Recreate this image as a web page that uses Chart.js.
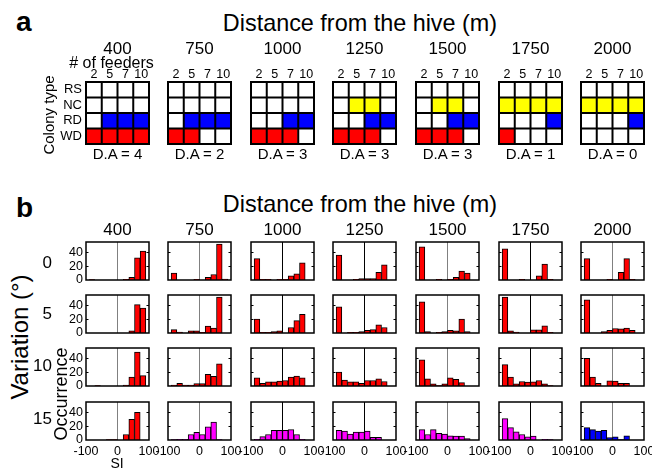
<!DOCTYPE html>
<html><head><meta charset="utf-8">
<script src="https://cdn.jsdelivr.net/npm/chart.js@4.4.0/dist/chart.umd.min.js"></script>
<style>
html,body{margin:0;padding:0;background:#fff;}
body{width:652px;height:468px;position:relative;overflow:hidden;font-family:"Liberation Sans",Arial,sans-serif;color:#000;}
canvas{position:absolute;}
.t{position:absolute;line-height:1;white-space:nowrap;transform:translate(-50%,-50%);}
.rt{position:absolute;line-height:1;white-space:nowrap;transform:translate(-100%,-50%);}
.r{position:absolute;line-height:1;white-space:nowrap;transform:translate(-50%,-50%) rotate(-90deg);}
.lt{position:absolute;line-height:1;white-space:nowrap;font-weight:bold;}
</style></head><body>
<script>
// ---------- data ----------
const distances = ['400','750','1000','1250','1500','1750','2000'];
const feederLabels = ['2','5','7','10'];
const colonyTypes = ['RS','NC','RD','WD'];          // top to bottom
const rsCells = [[0,0,0,0],[0,0,0,0],[0,0,0,0],[0,0,0,0],[0,0,0,0],[0,0,0,0],[0,0,0,0]];
const ncCells = [[0,0,0,0],[0,0,0,0],[0,0,0,0],[0,1,1,0],[0,1,1,0],[1,1,1,1],[1,1,1,1]];
const rdCells = [[0,1,1,1],[0,1,1,1],[0,0,1,1],[0,0,1,1],[0,0,1,1],[0,0,0,1],[0,0,0,1]];
const wdCells = [[1,1,1,1],[1,1,0,0],[1,1,1,0],[1,1,1,0],[1,1,1,0],[1,0,0,0],[0,0,0,0]];
const daValues = [4,2,3,3,3,1,0];

const variations = ['0','5','10','15'];
const binCenters = [-81,-63,-45,-27,-9,9,27,45,63,81];
const siTicks = [-100,0,100];
const occTicks = [0,20,40];
const hist400 = [
  [0.5,0,0,0,0,0,1,4,32,42],
  [0,0,0,0,0,0,0,3,41,36],
  [0,0.5,0,0,0,0,1.5,13,49,15],
  [0,0,0,0.5,0.5,0,8,30,40,0]];
const hist750 = [
  [10,0,0,0,1,0,4,8,52,1.5],
  [5,1.5,0,3,3,1,10,7,52,0],
  [1.5,4,1.5,1.5,3.5,3.5,17,14,32,0],
  [0.5,1,1,8,11,8,19,26,0.5,0]];
const hist1000 = [
  [31,1,1,0,1,1,6,9,25,0],
  [20,1,1,2,3,0,8,18,27,0],
  [12,4,6,6,7,8,13,14.5,12,0],
  [1,5,8,14,14,14,15,8,1,0]];
const hist1250 = [
  [36,0,0,1,2,2,2,11,22,0],
  [38,0,1,1,2,4,5,12,8,0],
  [20,8.5,6,6,4,8,8,10.5,6.5,0],
  [14,13,8.5,11.5,11.5,13,4,4,0,0]];
const hist1500 = [
  [48,0,0,1,0,1,4,13,10,0],
  [45,2,0,1,2,4,3,20,2,0],
  [38,10.5,3,0.5,3,12,9.5,5,0,0],
  [15,8,15,9.5,8.5,6,5.5,5.5,2,0]];
const hist1750 = [
  [45,0,0,1,0,0,6,23,1,0],
  [52,3,1.5,0,0,4.5,4.5,10.5,1,0],
  [31,13,3,6.5,5.5,6,8,3,0.5,0],
  [31,18,12,8,4.5,5.5,0,1,0.5,0]];
const hist2000 = [
  [31,0,0,0,1,0,11,31,1,0],
  [48,0,0,2,4,6.5,6,7,4,0],
  [40,13,4,0,7.5,7,4,4,0,0],
  [18,15,13,14,3.5,4.5,0.5,6,0,0]];
const histAll = [hist400,hist750,hist1000,hist1250,hist1500,hist1750,hist2000];

// ---------- styles / layout ----------
const RED='#ff0000', BLUE='#0000ff', YEL='#ffff00', MAG='#ff00ff';
const rowColors = [
  [RED,RED,RED,RED,RED,RED,RED],
  [RED,RED,RED,RED,RED,RED,RED],
  [RED,RED,RED,RED,RED,RED,RED],
  [RED,MAG,MAG,MAG,MAG,MAG,BLUE]];
const zeroLineColors = ['#808080','#808080','#000','#000','#808080','#000','#808080'];
const colLeft = [86,168,251,333,416,499,581];
const PW = 63;
const gridTop = 82, gridH = 62;
const rowTop = [242,295,348,402], PH = 38;
const FONT = '"Liberation Sans", Arial, sans-serif';

Chart.defaults.font.family = FONT;
Chart.defaults.color = '#000';

const boxPlugin = {
  id:'box',
  afterDatasetsDraw(chart, args, opts){
    const {ctx, chartArea:a} = chart;
    ctx.save();
    ctx.strokeStyle = '#000';
    if (opts.cells) {
      // cell separators, located through the chart's own scales
      const xs = chart.scales.x, ys = chart.scales.y;
      ctx.lineWidth = opts.lw;
      ctx.beginPath();
      const n = xs.getLabels().length;
      for (let i = 1; i < n; i++) {
        const p = (xs.getPixelForValue(i-1) + xs.getPixelForValue(i)) / 2;
        ctx.moveTo(p, a.top); ctx.lineTo(p, a.bottom);
      }
      for (let k = Math.ceil(ys.min) + 1; k < ys.max; k++) {
        const p = ys.getPixelForValue(k);
        ctx.moveTo(a.left, p); ctx.lineTo(a.right, p);
      }
      ctx.stroke();
    }
    ctx.lineWidth = opts.lw || 1.5;
    ctx.strokeRect(a.left, a.top, a.right-a.left, a.bottom-a.top);
    if (opts.yTicks) {
      const ys = chart.scales.y;
      ctx.lineWidth = 1;
      ctx.beginPath();
      for (const v of opts.yTicks) {
        const p = Math.round(ys.getPixelForValue(v)) + 0.5;
        ctx.moveTo(a.left, p); ctx.lineTo(a.left+2.5, p);
        ctx.moveTo(a.right, p); ctx.lineTo(a.right-2.5, p);
      }
      ctx.stroke();
    }
    ctx.restore();
  }
};

function mkCanvas(left, top, w, h){
  const c = document.createElement('canvas');
  c.width = w; c.height = h;
  c.style.left = left+'px'; c.style.top = top+'px';
  c.style.width = w+'px'; c.style.height = h+'px';
  document.body.appendChild(c);
  return c;
}
function txt(s, x, y, size, cls){
  const d = document.createElement('div');
  d.className = cls || 't';
  d.textContent = s;
  d.style.left = x+'px'; d.style.top = y+'px';
  d.style.fontSize = size+'px';
  document.body.appendChild(d);
  return d;
}

// ---------- part a: colony-type grids ----------
const layers = [
  {cells: wdCells, color: RED},
  {cells: rdCells, color: BLUE},
  {cells: ncCells, color: YEL},
  {cells: rsCells, color: '#00a000'}];

distances.forEach((dist, c) => {
  const cv = mkCanvas(colLeft[c]-34, gridTop-20, 34+PW+4, 20+gridH+4);
  new Chart(cv, {
    type:'bar',
    data:{
      labels: feederLabels,
      datasets: layers.map(L => ({
        data: feederLabels.map(() => 1),
        backgroundColor: L.cells[c].map(v => v ? L.color : '#ffffff'),
        borderWidth:0, barPercentage:1, categoryPercentage:1, inflateAmount:0.5
      }))
    },
    options:{
      responsive:false, animation:false, devicePixelRatio:1, events:[],
      layout:{padding:{left: c===0 ? 4 : 34, top:6, right:4, bottom:4}},
      plugins:{legend:{display:false}, tooltip:{enabled:false}, box:{lw:2, cells:true}},
      scales:{
        x:{stacked:true, position:'top', offset:true,
           grid:{display:false, drawTicks:false}, border:{display:false},
           ticks:{font:{size:12.5}, padding:0, autoSkip:false, maxRotation:0},
           afterFit: s => { s.height = 14; s.paddingLeft = 0; s.paddingRight = 0; }},
        y:{stacked:true, min:0, max:4, display: c===0,
           grid:{display:false, drawTicks:false}, border:{display:false},
           ticks:{font:{size:13}, padding:4, autoSkip:false,
                  callback: v => colonyTypes[3-Math.floor(v)]},
           afterBuildTicks: s => { s.ticks = colonyTypes.map((_, i) => ({value: i+0.5})); },
           afterFit: s => { if (c===0) s.width = 30; s.paddingTop = 0; s.paddingBottom = 0; }}
      }
    },
    plugins:[boxPlugin]
  });
});

// ---------- part b: SI histograms ----------
variations.forEach((vr, r) => {
  distances.forEach((dist, c) => {
    const vals = histAll[c][r];
    const cv = mkCanvas(colLeft[c]-34, rowTop[r]-6, 34+PW+18, 6+PH+24);
    new Chart(cv, {
      type:'bar',
      data:{datasets:[
        {type:'bar', data: binCenters.map((x, i) => ({x, y: vals[i]})),
         backgroundColor: rowColors[r][c], borderColor:'#000', borderWidth:1,
         barPercentage:1, categoryPercentage:1, order:1},
        {type:'line', data:[{x:0,y:0},{x:0,y:55}], borderColor: zeroLineColors[c],
         borderWidth:1, pointRadius:0, fill:false, order:2}
      ]},
      options:{
        responsive:false, animation:false, devicePixelRatio:1, events:[],
        layout:{padding:{left: c===0 ? 12 : 34, top:6, right:18, bottom: r===3 ? 6 : 24}},
        plugins:{legend:{display:false}, tooltip:{enabled:false}, box:{lw:1.5, yTicks: occTicks.slice(1)}},
        scales:{
          x:{type:'linear', min:-100, max:100, offset:false, display: r===3,
             grid:{display:false, drawTicks:false}, border:{display:false},
             ticks:{font:{size:12.5}, padding:4, autoSkip:false, maxRotation:0},
             afterBuildTicks: s => { s.ticks = siTicks.map(v => ({value:v})); },
             afterFit: s => { if (r===3) s.height = 18; s.paddingLeft = 0; s.paddingRight = 0; }},
          y:{min:0, max:55, display: c===0,
             grid:{display:false, drawTicks:false}, border:{display:false},
             ticks:{font:{size:12.5}, padding:3, autoSkip:false},
             afterBuildTicks: s => { s.ticks = occTicks.map(v => ({value:v})); },
             afterFit: s => { if (c===0) s.width = 22; s.paddingTop = 0; s.paddingBottom = 0; }}
        }
      },
      plugins:[boxPlugin]
    });
  });
});

// ---------- text ----------
txt('a', 16, 8, 28, 'lt');
txt('b', 16, 194, 28, 'lt');
txt('Distance from the hive (m)', 360, 24.4, 23.4);
txt('Distance from the hive (m)', 360, 205.4, 23.4);
distances.forEach((d, c) => {
  const cx = colLeft[c] + PW/2;
  txt(d, cx, 47.5, 17);
  txt(d, cx, 228.5, 17);
  txt('D.A = ' + daValues[c], cx, 152.5, 15);
});
txt('# of feeders', 111.5, 62.8, 16);
txt('Colony type', 48, 115, 15, 'r');
txt('Variation (°)', 20, 336.5, 24, 'r');
const rowLabelY = [262,313,365,418];
variations.forEach((v, r) => txt(v, 52, rowLabelY[r], 17, 'rt'));
txt('Occurrence', 61, 394, 18, 'r');
txt('SI', 117, 463, 14);
</script>
</body></html>
